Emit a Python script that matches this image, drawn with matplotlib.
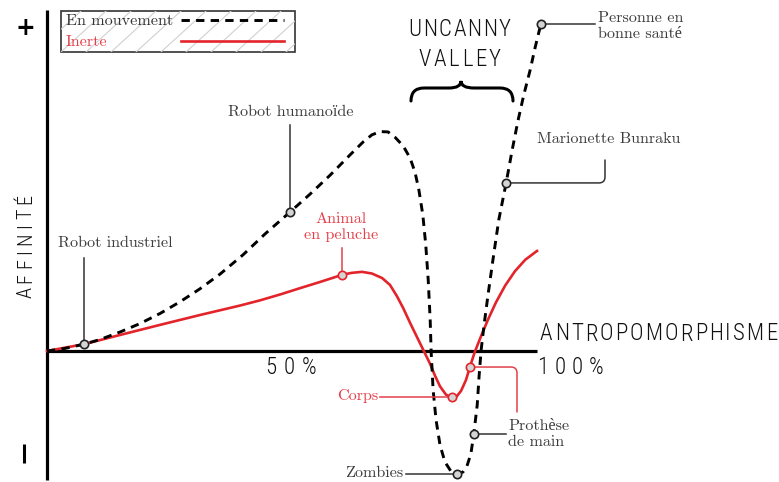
import matplotlib
matplotlib.use('Agg')
import matplotlib.pyplot as plt
import matplotlib.transforms as mtransforms
from matplotlib.path import Path
from matplotlib.patches import PathPatch, Rectangle

# courbe "en mouvement" (x: anthropomorphisme %, y: affinite)
mouv_x = [0, 3.7, 7.6, 10.8, 14.9, 19.0, 23.1, 27.1, 31.2, 35.3, 40.0, 44.5, 49.6,
          53.7, 57.8, 61.8, 64.5, 66.3, 68.0, 69.6, 71.0, 72.7, 74.1, 75.1, 75.9,
          76.7, 77.3, 77.8, 78.2, 78.4, 78.8, 79.4, 80.2, 81.2, 82.4, 83.7, 84.9,
          85.7, 86.5, 87.1, 87.8, 88.2, 88.6, 89.2, 90.0, 91.0, 92.2, 93.7, 94.9,
          96.1, 97.3, 98.6, 99.6, 100.4, 100.8]
mouv_y = [0, 0.8, 2.1, 3.5, 5.8, 8.4, 11.5, 15.0, 19.0, 23.5, 29.4, 35.8, 42.5,
          48.0, 53.8, 59.9, 63.9, 66.1, 67.1, 67.0, 65.4, 62.7, 59.0, 54.7, 49.2,
          41.6, 32.4, 21.7, 9.5, -0.3, -11.9, -21.1, -28.7, -33.9, -36.7, -37.6, -37.0,
          -35.2, -31.5, -25.4, -16.5, -7.3, 0.3, 8.0, 17.1, 27.8, 40.1, 51.4, 61.2,
          70.3, 78.3, 85.9, 92.7, 97.6, 100.0]

# courbe "inerte"
inerte_x = [0, 7.6, 14.9, 23.1, 31.2, 39.4, 43.5, 47.6, 51.6, 55.7, 58.8, 60.2, 62.2,
            64.3, 66.3, 68.4, 70.0, 71.4, 72.7, 74.1, 75.3, 77.0, 78.2, 79.2, 80.2,
            81.4, 82.4, 83.5, 84.5, 85.5, 86.3, 87.3, 88.6, 90.0, 91.6, 93.5, 95.5,
            97.6, 100.0]
inerte_y = [0, 2.1, 4.9, 8.0, 11.0, 13.9, 15.5, 17.3, 19.2, 21.1, 22.6, 23.3, 23.9,
            24.2, 23.7, 22.3, 20.2, 16.8, 13.1, 8.6, 4.9, -0.3, -4.0, -7.6, -10.8,
            -13.3, -14.2, -14.1, -12.2, -8.9, -4.9, -0.3, 4.6, 9.6, 14.8, 20.0, 24.4,
            27.9, 30.6]

# points annotes
mouv_pts_x = [7.6, 49.6, 100.8, 93.7, 87.1, 83.7]
mouv_pts_y = [2.1, 42.5, 100.0, 51.4, -25.4, -37.6]
inerte_pts_x = [60.2, 82.7, 86.3]
inerte_pts_y = [23.3, -14.2, -4.9]

BLACK = '#000000'
RED = '#e3242b'
RED_TXT = '#e3404a'
GREY_TXT = '#3c3c3c'
SERIF = ['cmr10', 'Liberation Serif']
COND = ['Roboto Condensed', 'Liberation Sans Narrow', 'Roboto']
plt.rcParams['lines.scale_dashes'] = False

W, H = 779, 482
fig = plt.figure(figsize=(W / 100, H / 100), dpi=100)
ax = fig.add_axes([0, 0, 1, 1])
ax.set_xlim(-47 / 4.9, (W - 47) / 4.9)
ax.set_ylim((351 - H) / 3.27, 351 / 3.27)
ax.axis('off')
renderer = fig.canvas.get_renderer()

# pixel coordinates, origin top-left
PX = mtransforms.Affine2D().scale(1, -1).translate(0, H)

# axes
ax.plot([0, 0], [(351 - 10) / 3.27, (351 - 480) / 3.27], color=BLACK, lw=2.3,
        solid_capstyle='butt', zorder=2)
ax.plot([0, 100], [0, 0], color=BLACK, lw=2.3, solid_capstyle='butt', zorder=2)

# curves
ax.plot(inerte_x, inerte_y, color=RED, lw=1.9, zorder=3, solid_joinstyle='round')
ax.plot(mouv_x, mouv_y, color=BLACK, lw=2.1, dashes=(6, 4.5), zorder=4)

mk = dict(marker='o', ls='none', ms=6, mew=1.2, mfc='#d4d4d4', zorder=6)
ax.plot(inerte_pts_x, inerte_pts_y, mec=RED, **mk)
ax.plot(mouv_pts_x, mouv_pts_y, mec='#222222', **mk)

lab = dict(family=SERIF, fontsize=11.6)


def leader(x0, y0, x1, y1, color='#333333'):
    ax.plot([x0, x1], [y0, y1], color=color, lw=1.1, zorder=5)


def elbow(p_end, p_mark, angA, angB, color):
    ax.annotate('', xy=p_mark, xytext=p_end,
                arrowprops=dict(arrowstyle='-', color=color, lw=1.1, shrinkA=0, shrinkB=0,
                                connectionstyle=f'angle,angleA={angA},angleB={angB},rad=6'),
                zorder=5)


# Robot industriel
leader(7.6, 28.4, 7.6, 2.1)
ax.text(14.0, 33.0, 'Robot industriel', ha='center', va='center', color=GREY_TXT, **lab)
# Robot humanoide
leader(49.6, 69.1, 49.6, 42.5)
ax.text(49.8, 73.1, 'Robot humanoïde', ha='center', va='center', color=GREY_TXT, **lab)
# Animal en peluche
leader(60.2, 31.5, 60.2, 23.3, RED_TXT)
ax.text(60.0, 37.9, 'Animal\nen peluche', ha='center', va='center', color=RED_TXT,
        linespacing=1.2, **lab)
# Personne en bonne sante
leader(100.8, 100.0, 111.8, 100.0)
ax.text(112.4, 99.4, 'Personne en\nbonne santé', ha='left', va='center', color=GREY_TXT,
        linespacing=1.2, **lab)
# Marionette Bunraku
elbow(((605 - 47) / 4.9, (351 - 160) / 3.27), (93.7, 51.4), 90, 0, '#333333')
ax.text(100.0, 64.8, 'Marionette Bunraku', ha='left', va='center', color=GREY_TXT, **lab)
# Corps
leader(68.0, -14.2, 82.7, -14.2, RED_TXT)
ax.text(67.6, -13.8, 'Corps', ha='right', va='center', color=RED_TXT, **lab)
# Prothese de main
elbow(((517 - 47) / 4.9, (351 - 412) / 3.27), (86.3, -4.9), 90, 0, RED_TXT)
leader(87.1, -25.4, (506 - 47) / 4.9, -25.4)
ax.text((508 - 47) / 4.9, -25.4, 'Prothèse\nde main', ha='left', va='center',
        color=GREY_TXT, linespacing=1.2, **lab)
# Zombies
leader(73.3, -37.6, 83.7, -37.6)
ax.text(72.7, -37.3, 'Zombies', ha='right', va='center', color=GREY_TXT, **lab)


def tracked(s, start, end, pos, size, vertical=False):
    # letters spread evenly between start and end (pixels)
    kw = dict(transform=PX, family=COND, fontsize=size, fontweight='light', color='#111111')
    if vertical:
        ts = [ax.text(0, 0, c, ha='center', va='bottom', rotation=90, **kw) for c in s]
        sizes = [t.get_window_extent(renderer).height for t in ts]
    else:
        ts = [ax.text(0, 0, c, ha='left', va='center', **kw) for c in s]
        sizes = [t.get_window_extent(renderer).width for t in ts]
    gap = (abs(end - start) - sum(sizes)) / (len(s) - 1)
    cur = start
    for t, w in zip(ts, sizes):
        if vertical:
            t.set_position((pos, cur))
            cur -= w + gap
        else:
            t.set_position((cur, pos))
            cur += w + gap


tracked('ANTROPOMORPHISME', 540, 777, 334, 16.5)
tracked('UNCANNY', 408, 511, 30, 16.5)
tracked('VALLEY', 418, 501, 59, 16.5)
tracked('AFFINITÉ', 298, 194, 26, 14.5, vertical=True)
tracked('50%', 265, 316, 368, 16.5)
tracked('100%', 537, 603, 368, 16.5)

ax.text(25, 28, '+', transform=PX, ha='center', va='center', fontsize=17,
        fontweight='bold', family='DejaVu Sans')
ax.plot([24, 24], [444, 463], transform=PX, color=BLACK, lw=2.2, solid_capstyle='butt')

# accolade
verts = [(411, 101), (411, 88), (424, 88), (449, 88), (461, 88), (461, 81),
         (461, 88), (474, 88), (500, 88), (513, 88), (513, 101)]
codes = [Path.MOVETO, Path.CURVE3, Path.CURVE3, Path.LINETO, Path.CURVE3, Path.CURVE3,
         Path.CURVE3, Path.CURVE3, Path.LINETO, Path.CURVE3, Path.CURVE3]
ax.add_patch(PathPatch(Path(verts, codes), transform=PX, fill=False, lw=2.2,
                       edgecolor=BLACK, capstyle='round'))

# legende
box = Rectangle((61, 11), 234, 41, transform=PX, facecolor='white', edgecolor='#333333',
                lw=1.2, zorder=7)
ax.add_patch(box)
for k in range(-2, 12):
    x0 = 61 + 25 * k
    ln, = ax.plot([x0, x0 + 45], [52, 11], transform=PX, color='#d0d0d0', lw=0.8, zorder=7.5)
    ln.set_clip_path(box)
ax.text(66, 21, 'En mouvement', transform=PX, ha='left', va='center', color='#333333',
        zorder=8, **lab)
ax.text(66, 42, 'Inerte', transform=PX, ha='left', va='center', color=RED_TXT, zorder=8, **lab)
ax.plot([181, 284], [20, 20], transform=PX, color=BLACK, lw=2.1, dashes=(6, 4.5), zorder=8)
ax.plot([181, 284], [41, 41], transform=PX, color=RED, lw=1.9, zorder=8)

fig.savefig('out.png', dpi=100)
